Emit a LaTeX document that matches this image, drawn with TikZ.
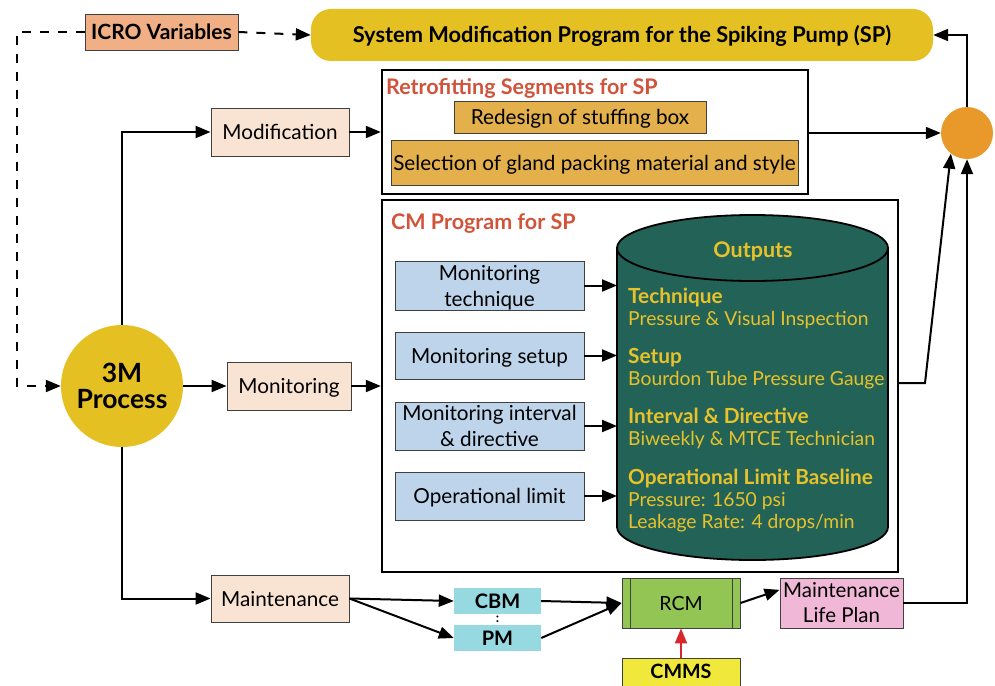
\documentclass[tikz,border=0pt]{standalone}
\usepackage{fontspec}
\setmainfont{Lato}
\usetikzlibrary{arrows.meta}
\definecolor{gold}{HTML}{E5C023}
\definecolor{salmon}{HTML}{F0AF84}
\definecolor{peach}{HTML}{F9E3D3}
\definecolor{ochre}{HTML}{E3B04B}
\definecolor{orangec}{HTML}{E8992A}
\definecolor{titlered}{HTML}{D0533A}
\definecolor{lblue}{HTML}{BDD4EA}
\definecolor{teal}{HTML}{236256}
\definecolor{tyellow}{HTML}{E8C22A}
\definecolor{cyanb}{HTML}{97D9E1}
\definecolor{greenb}{HTML}{92C553}
\definecolor{pinkb}{HTML}{F0B8D6}
\definecolor{yellowb}{HTML}{F0E83A}
\definecolor{redarr}{HTML}{D9262C}
\begin{document}
\begin{tikzpicture}[x=1pt,y=-1pt,
  conn/.style={line width=2pt, draw=black},
  arr/.style={conn, -{Triangle[length=15pt,width=12pt]}},
  box/.style={draw=black!75, line width=0.9pt, inner sep=0pt, align=center, text height=15pt, text depth=0pt, font=\fontsize{20.7}{26}\selectfont},
  twoline/.style={text height=41pt, text depth=0pt},
  bigbox/.style={draw=black, line width=2.4pt, inner sep=0pt},
  ttl/.style={anchor=west, text=titlered, text height=15pt, text depth=0pt, font=\bfseries\fontsize{21.5}{24}\selectfont, inner sep=0pt},
  outh/.style={anchor=west, text=tyellow, text height=14.5pt, text depth=0pt, font=\bfseries\fontsize{20.8}{22}\selectfont, inner sep=0pt},
  outt/.style={anchor=west, text=tyellow, text height=14pt, text depth=0pt, font=\fontsize{19.3}{22}\selectfont, inner sep=0pt},
  bluebox/.style={box, fill=lblue, minimum width=189pt},
  peachbox/.style={box, fill=peach, minimum height=48pt},
  bbox/.style={fill=cyanb, minimum width=87pt, minimum height=26pt, inner sep=0pt, text height=14.5pt, text depth=0pt, font=\bfseries\fontsize{20}{22}\selectfont}
]
\useasboundingbox (0,0) rectangle (995,685);

% top row
\node[box, fill=salmon, minimum width=153pt, minimum height=36pt, font=\bfseries\fontsize{21}{23}\selectfont] (icro) at (161.5,32) {ICRO Variables};
\node[fill=gold, rounded corners=20pt, minimum width=622pt, minimum height=52pt, inner sep=0pt, text height=15.5pt, text depth=0pt, font=\bfseries\fontsize{21.8}{24}\selectfont] (sys) at (622,35) {System Modification Program for the Spiking Pump (SP)};

% retrofitting
\node[bigbox, minimum width=426pt, minimum height=124pt] (retro) at (595,132) {};
\node[ttl] (rtitle) at (386,87) {Retrofitting Segments for SP};
\node[box, fill=ochre, minimum width=252pt, minimum height=32pt] (redesign) at (580,117) {Redesign of stuffing box};
\node[box, fill=ochre, minimum width=407pt, minimum height=45pt] (select) at (594.5,162.5) {Selection of gland packing material and style};
\node[peachbox, minimum width=138pt] (mod) at (280,132) {Modification};
\node[circle, fill=orangec, minimum size=52pt, inner sep=0pt] (oc) at (967,133) {};

% CM program
\node[bigbox, minimum width=516pt, minimum height=372pt] (cm) at (640,386) {};
\node[ttl] (cmtitle) at (391,222) {CM Program for SP};
\node[bluebox, twoline, minimum height=49pt] (b1) at (489.5,285.5) {Monitoring\\technique};
\node[bluebox, minimum height=47pt] (b2) at (489.5,355.5) {Monitoring setup};
\node[bluebox, twoline, minimum height=48pt] (b3) at (489.5,426) {Monitoring interval\\\& directive};
\node[bluebox, minimum height=48pt] (b4) at (489.5,496) {Operational limit};

% cylinder
\fill[teal, draw=black, line width=1.8pt] (752.5,527) ellipse [x radius=135.5pt, y radius=33pt];
\fill[teal] (617,248) rectangle (888,527);
\draw[line width=1.8pt] (617,248) -- (617,527) (888,248) -- (888,527);
\filldraw[fill=teal, draw=black, line width=1.8pt] (752.5,248) ellipse [x radius=135.5pt, y radius=33pt];
\coordinate (c1) at (617,285.5);
\coordinate (c2) at (617,355.5);
\coordinate (c3) at (617,426);
\coordinate (c4) at (617,496);
\node[text=tyellow, text height=15pt, text depth=0pt, font=\bfseries\fontsize{21.5}{24}\selectfont, inner sep=0pt] (outputs) at (753,250) {Outputs};
\node[outh] (o1) at (628,296) {Technique};
\node[outt] (o1b) at (628,318) {Pressure \& Visual Inspection};
\node[outh] (o2) at (628,356) {Setup};
\node[outt] (o2b) at (628,378) {Bourdon Tube Pressure Gauge};
\node[outh] (o3) at (628,416) {Interval \& Directive};
\node[outt] (o3b) at (628,438) {Biweekly \& MTCE Technician};
\node[outh] (o4) at (628,477) {Operational Limit Baseline};
\node[outt] (o4b) at (628,499) {Pressure: 1650 psi};
\node[outt] (o4c) at (628,521) {Leakage Rate: 4 drops/min};

% left column
\node[circle, fill=gold, minimum size=122pt, inner sep=0pt, align=center, text height=45pt, text depth=0pt, font=\bfseries\fontsize{26.5}{26}\selectfont] (tm) at (122,386) {3M\\Process};
\node[peachbox, minimum width=124pt] (mon) at (289,386) {Monitoring};
\node[peachbox, minimum width=138pt, minimum height=47pt] (mnt) at (280,598.5) {Maintenance};

% bottom row
\node[bbox] (cbm) at (497.5,601) {CBM};
\node[bbox] (pm) at (497.5,638) {PM};
\node[font=\bfseries\fontsize{13}{13}\selectfont, inner sep=0pt] (colon) at (497.5,619.5) {:};
\node[box, fill=greenb, minimum width=118pt, minimum height=50pt, font=\fontsize{19.5}{22}\selectfont, text height=14pt] (rcm) at (681,603) {RCM};
\draw[line width=0.9pt, black!75] (630,578) -- (630,628) (732,578) -- (732,628);
\node[box, fill=pinkb, minimum width=123pt, minimum height=50pt, text height=39pt, font=\fontsize{20.5}{25}\selectfont] (mlp) at (841.5,603) {Maintenance\\Life Plan};
\node[box, fill=yellowb, minimum width=118pt, minimum height=40pt, anchor=north] (cmms) at (681,658) {};
\node[font=\bfseries\fontsize{19.7}{22}\selectfont, inner sep=0pt, text height=14pt, text depth=0pt] (cmmst) at (681,671) {CMMS};

% connectors
\coordinate (dc) at (17,32);
\draw[arr, dash pattern=on 9pt off 9pt] (icro.west) -- (dc) |- (tm.west);
\draw[arr, dash pattern=on 9pt off 9pt] (icro.east) -- (sys.west);
\draw[arr] (mod.east) -- (retro.west);
\draw[arr] (retro.east |- oc.west) -- (oc.west);
\draw[arr] (oc.north) |- (sys.east);
\draw[arr] (tm.north) |- (mod.west);
\draw[arr] (tm.east) -- (mon.west);
\draw[arr] (tm.south) |- (mnt.west);
\draw[arr] (mon.east) -- (cm.west);
\draw[arr] (b1.east) -- (c1);
\draw[arr] (b2.east) -- (c2);
\draw[arr] (b3.east) -- (c3);
\draw[arr] (b4.east) -- (c4);
\coordinate (ck) at (925,383);
\draw[arr] (cm.east |- ck) -- (ck) -- (oc.232);
\draw[arr] (mlp.east) -| (oc.south);
\draw[arr] (mnt.east) -- (cbm.west);
\draw[arr] (mnt.east) -- (pm.west);
\draw[arr] (cbm.east) -- (rcm.west);
\draw[arr] (pm.east) -- (rcm.west);
\draw[arr] (rcm.east) -- (mlp.168);
\draw[arr, draw=redarr, color=redarr] (cmms.north) -- (rcm.south);
\end{tikzpicture}
\end{document}
